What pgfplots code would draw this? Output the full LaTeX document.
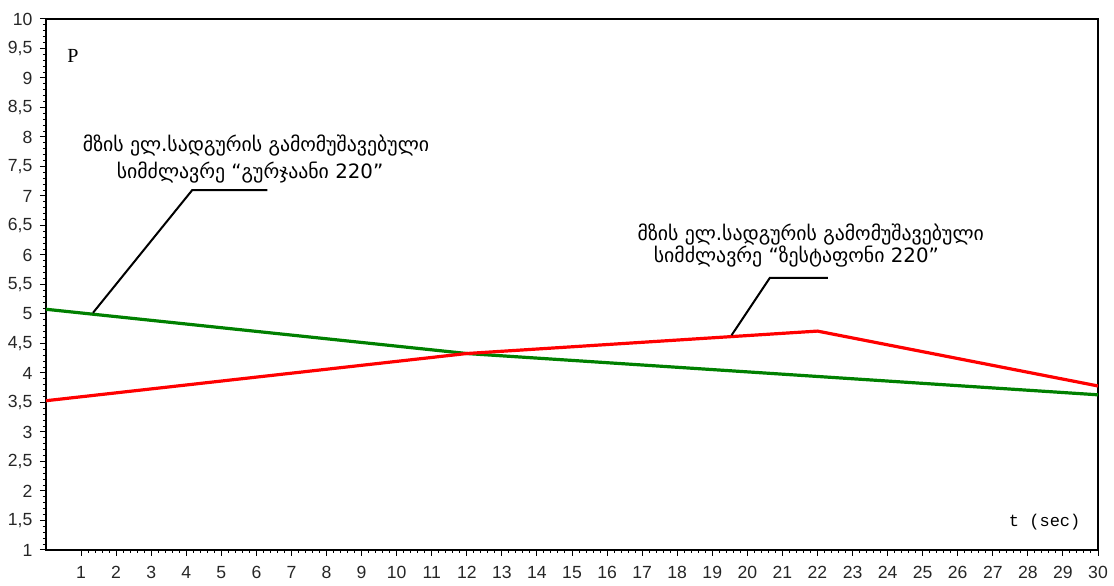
\documentclass[border=0pt]{standalone}
\usepackage{fontspec}
\usepackage{pgfplots}
\pgfplotsset{compat=1.18}
\setmainfont{Liberation Sans}
\newfontfamily\geo{DejaVu Sans}
\newfontfamily\lab{Liberation Mono}
\newfontfamily\labser{Liberation Serif}
\definecolor{pgreen}{RGB}{0,128,0}
\definecolor{pred}{RGB}{255,0,0}

\begin{document}
\begin{tikzpicture}
\begin{axis}[
  scale only axis,
  width=526pt, height=265.5pt,
  xmin=0, xmax=30, ymin=1, ymax=10,
  xtick={1,2,...,30},
  ytick={1,1.5,2,2.5,3,3.5,4,4.5,5,5.5,6,6.5,7,7.5,8,8.5,9,9.5,10},
  minor x tick num=4, minor y tick num=4,
  tick align=outside, tick pos=left,
  major tick length=3pt, minor tick length=1.5pt,
  axis line style={line width=1pt, black},
  every tick/.style={black, line width=0.5pt},
  tick label style={font=\fontsize{8.8}{9}\selectfont, text=black!85},
  xticklabel style={yshift=-1.5pt},
  yticklabel style={xshift=-0.3pt},
  /pgf/number format/.cd, use comma, 1000 sep={}, assume math mode=true,
]
% solar plant power output curves
\addplot[pgreen, line width=1.6pt] coordinates {(0,5.08) (12,4.33) (30,3.63)};
\addplot[pred, line width=1.6pt] coordinates {(0,3.53) (12,4.33) (22,4.71) (30,3.78)};

% leader lines
\draw[black, line width=1pt] (axis cs:1.34,5.02) -- (axis cs:4.17,7.10) -- (axis cs:6.31,7.10);
\draw[black, line width=1pt] (axis cs:19.55,4.64) -- (axis cs:20.64,5.61) -- (axis cs:22.30,5.61);

\node[font=\geo\fontsize{9.9}{10}\selectfont] at (axis cs:5.99,7.857) {მზის ელ.სადგურის გამომუშავებული};
\node[font=\geo\fontsize{9.9}{10}\selectfont] at (axis cs:5.82,7.405) {სიმძლავრე “გურჯაანი 220”};
\node[font=\geo\fontsize{9.9}{10}\selectfont] at (axis cs:21.81,6.347) {მზის ელ.სადგურის გამომუშავებული};
\node[font=\geo\fontsize{9.9}{10}\selectfont] at (axis cs:21.4,5.978) {სიმძლავრე “ზესტაფონი 220”};

\node[font=\labser\fontsize{10}{10}\selectfont] at (axis cs:0.77,9.38) {P};
\node[font=\lab\fontsize{8.5}{10}\selectfont] at (axis cs:28.48,1.48) {t (sec)};

\coordinate (sw) at (rel axis cs:0,0);
\coordinate (ne) at (rel axis cs:1,1);
\end{axis}
\pgfresetboundingbox
\path ([shift={(-23pt,-18pt)}]sw) rectangle ([shift={(8pt,9.5pt)}]ne);
\end{tikzpicture}
\end{document}
